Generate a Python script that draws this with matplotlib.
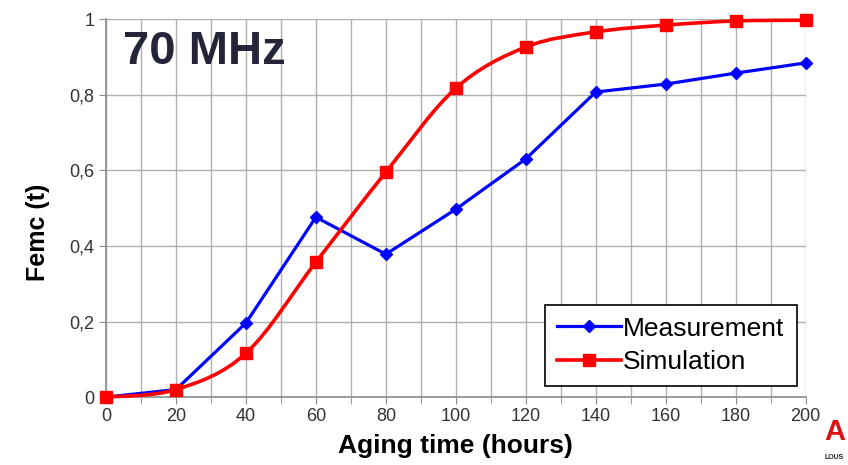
import numpy as np
import matplotlib.pyplot as plt
from matplotlib.path import Path
from matplotlib.patches import PathPatch
from matplotlib.lines import Line2D

plt.rcParams['font.family'] = ['Liberation Sans', 'DejaVu Sans']

hours = [0, 20, 40, 60, 80, 100, 120, 140, 160, 180, 200]
measurement = [0.0, 0.02, 0.196, 0.476, 0.378, 0.497, 0.63, 0.807, 0.828, 0.857, 0.884]
simulation = [0.0, 0.02, 0.116, 0.357, 0.595, 0.817, 0.926, 0.966, 0.984, 0.995, 0.997]
y_ticks = [0, 0.2, 0.4, 0.6, 0.8, 1.0]
y_labels = ['0', '0,2', '0,4', '0,6', '0,8', '1']


def smooth_path(x, y, k=1/6):
    # Excel-like smoothed line: cubic bezier with catmull-rom tangents
    x = np.asarray(x, float)
    y = np.asarray(y, float)
    verts = [(x[0], y[0])]
    codes = [Path.MOVETO]
    n = len(x)
    for i in range(n - 1):
        p0 = i - 1 if i > 0 else i
        p3 = i + 2 if i + 2 < n else i + 1
        c1 = (x[i] + (x[i+1] - x[p0]) * k, y[i] + (y[i+1] - y[p0]) * k)
        c2 = (x[i+1] - (x[p3] - x[i]) * k, y[i+1] - (y[p3] - y[i]) * k)
        verts += [c1, c2, (x[i+1], y[i+1])]
        codes += [Path.CURVE4] * 3
    return Path(verts, codes)


fig = plt.figure(figsize=(8.48, 4.65), dpi=100)
ax = fig.add_axes([0.125, 0.146, 0.825, 0.813])

ax.plot(hours, measurement, color='#0000ff', lw=2.3, marker='D', ms=6,
        zorder=3, clip_on=False)
ax.add_patch(PathPatch(smooth_path(hours, simulation), fill=False,
                       edgecolor='#ff0000', lw=2.6, zorder=4, clip_on=False))
ax.plot(hours, simulation, ls='none', color='#ff0000', marker='s', ms=9,
        zorder=5, clip_on=False)

ax.set_xlim(0, 200)
ax.set_ylim(0, 1)
ax.set_xticks(np.arange(0, 201, 20))
ax.set_xticks(np.arange(0, 201, 10), minor=True)
ax.set_yticks(y_ticks)
ax.set_yticklabels(y_labels)
ax.grid(True, which='both', axis='x', color='#b0b0b0', lw=1)
ax.grid(True, which='major', axis='y', color='#b0b0b0', lw=1)
ax.set_axisbelow(True)
for s in ['top', 'right']:
    ax.spines[s].set_visible(False)
for s in ['left', 'bottom']:
    ax.spines[s].set_color('#8c8c8c')
    ax.spines[s].set_linewidth(1.2)
ax.tick_params(axis='both', which='both', color='#8c8c8c', length=5,
               labelsize=13, labelcolor='#333333')
ax.tick_params(axis='x', pad=3)

ax.set_xlabel('Aging time (hours)', fontsize=19, fontweight='bold', labelpad=6)
ax.set_ylabel('Femc (t)', fontsize=18, fontweight='bold')
ax.yaxis.set_label_coords(-0.08, 0.437)

ax.text(0.024, 0.97, '70 MHz', transform=ax.transAxes, fontsize=34,
        fontweight='bold', color='#25253a', va='top', ha='left')

handles = [Line2D([], [], color='#0000ff', lw=2.3, marker='D', ms=6),
           Line2D([], [], color='#ff0000', lw=2.6, marker='s', ms=9)]
leg = ax.legend(handles, ['Measurement', 'Simulation'], loc='lower right',
                bbox_to_anchor=(0.987, 0.03), fontsize=19, fancybox=False,
                framealpha=1, edgecolor='black', handlelength=2.4,
                handletextpad=0.1, borderpad=0.45, labelspacing=0.35,
                borderaxespad=0)
leg.get_frame().set_linewidth(1.2)

fig.text(0.972, 0.04, 'A', fontsize=21, fontweight='bold', color='#dd1111',
         ha='left', va='bottom')
fig.text(0.972, 0.008, 'LOUS', fontsize=5, fontweight='bold', color='#222222',
         ha='left', va='bottom')

fig.savefig('out.png', dpi=100)
